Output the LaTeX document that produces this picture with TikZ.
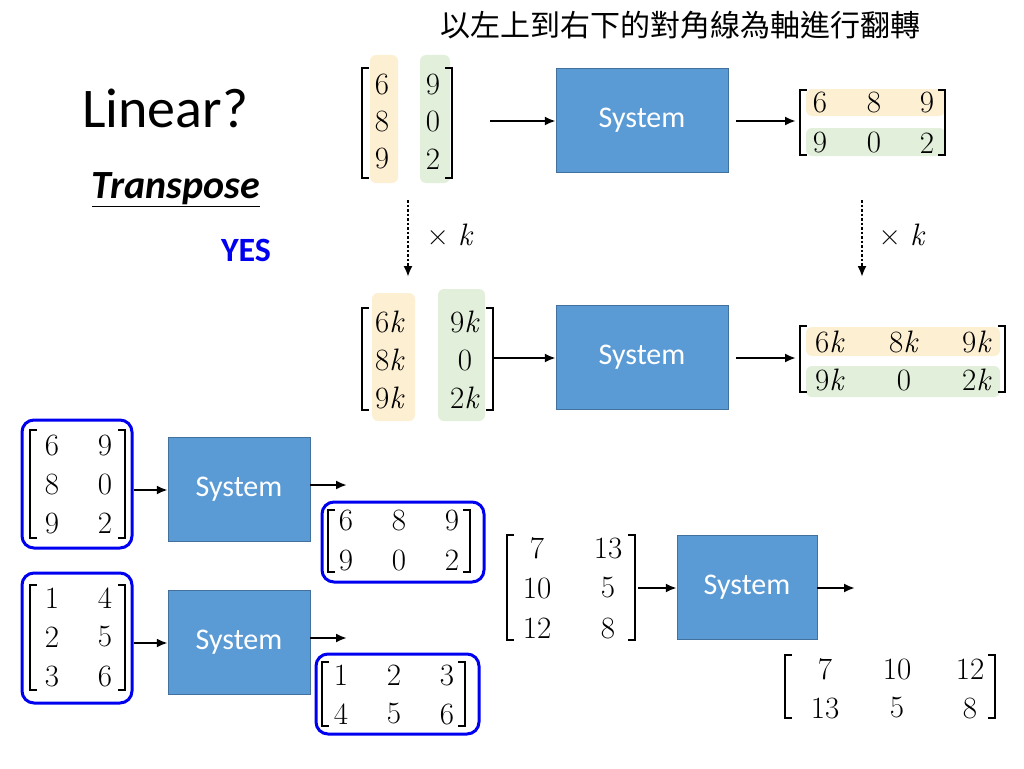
\documentclass[tikz,border=0pt]{standalone}
\usepackage{fontspec}
\newfontfamily\sysfont{Carlito}
\newfontfamily\cjkfont{Noto Sans CJK TC}
\usetikzlibrary{positioning,arrows.meta}
\definecolor{boxblue}{HTML}{5B9BD5}
\definecolor{boxedge}{HTML}{41719C}
\definecolor{hlyel}{HTML}{FDEFD2}
\definecolor{hlgrn}{HTML}{E2EFDA}
\definecolor{ringblue}{HTML}{0000F0}
\tikzset{
  sys/.style={draw=boxedge, fill=boxblue, minimum width=#1, text=white, font=\sysfont\fontsize{30}{32}\selectfont},
  num/.style={font=\fontsize{31}{33}\selectfont, inner sep=0pt},
  arr/.style={-{Latex[length=11pt,width=9pt]}, line width=2.5pt},
  dots/.style={-{Latex[length=11pt,width=9pt]}, line width=2.5pt, dotted},
  ring/.style={draw=ringblue, line width=3pt, rounded corners=12pt},
  yel/.style={fill=hlyel, rounded corners=6pt},
  grn/.style={fill=hlgrn, rounded corners=6pt}
}
\newcommand{\kk}{\textit{k}}
% bracket pair: left x, right x, top y, bottom y
\newcommand{\brk}[4]{%
  \draw[line width=1.6pt] (#1+7,#3) -- (#1,#3) -- (#1,#4) -- (#1+7,#4);
  \draw[line width=1.6pt] (#2-7,#3) -- (#2,#3) -- (#2,#4) -- (#2-7,#4);}
\begin{document}
\begin{tikzpicture}[x=1pt,y=-1pt]
  \useasboundingbox (0,0) rectangle (1024,768);
  \node[font=\cjkfont\fontsize{30}{32}\selectfont] (title) at (680,25) {以左上到右下的對角線為軸進行翻轉};
  \node[font=\sysfont\fontsize{56}{58}\selectfont] (lin) at (165,108) {Linear?};
  \node[font=\sysfont\bfseries\itshape\fontsize{40}{42}\selectfont] (tr) at (176,190) {\underline{Transpose}};
  \node[font=\sysfont\bfseries\fontsize{34}{36}\selectfont, text=ringblue] (yes) at (246,250) {YES};

  % top row
  \fill[yel] (370,55) rectangle (398,183);
  \fill[grn] (420,55) rectangle (450,183);
  \brk{362}{452}{68}{178}
  \foreach \v [count=\i] in {6,8,9} \node[num] (a\i) at (382,48+37*\i) {\v};
  \foreach \v [count=\i] in {9,0,2} \node[num] (b\i) at (433,48+37*\i) {\v};
  \coordinate (m1) at (490,121);
  \node[sys=172pt, minimum height=104pt] (s1) at (642,120) {System};
  \draw[arr] (m1) -- (s1.west |- m1);
  \coordinate (o1) at (796,121);
  \draw[arr] (s1.east |- o1) ++(8,0) -- (o1);
  \fill[yel] (806,89) rectangle (945,116);
  \fill[grn] (806,128) rectangle (945,156);
  \brk{800}{945}{90}{155}
  \foreach \v/\x in {6/820,8/874,9/927} \node[num] at (\x,103) {\v};
  \foreach \v/\x in {9/820,0/874,2/927} \node[num] at (\x,143) {\v};

  % times k
  \coordinate (d1) at (408,200); \coordinate (d2) at (408,277);
  \draw[dots] (d1) -- (d2);
  \node[num] (k1) at (450,235) {× \kk};
  \coordinate (d3) at (862,200); \coordinate (d4) at (862,277);
  \draw[dots] (d3) -- (d4);
  \node[num] (k2) at (902,235) {× \kk};

  % second row
  \fill[yel] (372,293) rectangle (415,421);
  \fill[grn] (438,289) rectangle (485,421);
  \brk{362}{493}{308}{410}
  \foreach \v [count=\i] in {6\kk,8\kk,9\kk} \node[num] at (390,284+38*\i) {\v};
  \foreach \v [count=\i] in {9\kk,0,2\kk} \node[num] at (465,284+38*\i) {\v};
  \coordinate (m2) at (493,358);
  \node[sys=172pt, minimum height=104pt] (s2) at (642,357) {System};
  \draw[arr] (m2) -- (s2.west |- m2);
  \coordinate (o2) at (796,358);
  \draw[arr] (s2.east |- o2) ++(8,0) -- (o2);
  \fill[yel] (806,327) rectangle (1000,356);
  \fill[grn] (806,366) rectangle (1000,397);
  \brk{800}{1005}{326}{392}
  \foreach \v/\x in {6\kk/830,8\kk/904,9\kk/977} \node[num] at (\x,342) {\v};
  \foreach \v/\x in {9\kk/830,0/904,2\kk/977} \node[num] at (\x,380) {\v};

  % bottom left 1
  \draw[ring] (22,420) rectangle (132,548);
  \brk{30}{125}{430}{538}
  \foreach \v [count=\i] in {6,8,9} \node[num] at (52,406+39*\i) {\v};
  \foreach \v [count=\i] in {9,0,2} \node[num] at (105,406+39*\i) {\v};
  \coordinate (m3) at (134,490);
  \node[sys=142pt, minimum height=104pt] (s3) at (239,489) {System};
  \draw[arr] (m3) -- (s3.west |- m3);
  \coordinate (o3) at (347,485);
  \draw[arr] (s3.east |- o3) -- (o3);
  \draw[ring] (322,502) rectangle (484,582);
  \brk{328}{470}{510}{572}
  \foreach \v/\x in {6/346,8/399,9/452} \node[num] at (\x,520) {\v};
  \foreach \v/\x in {9/346,0/399,2/452} \node[num] at (\x,560) {\v};

  % bottom left 2
  \draw[ring] (22,573) rectangle (132,703);
  \brk{30}{125}{585}{690}
  \foreach \v [count=\i] in {1,2,3} \node[num] at (52,559+39*\i) {\v};
  \foreach \v [count=\i] in {4,5,6} \node[num] at (105,559+39*\i) {\v};
  \coordinate (m4) at (134,643);
  \node[sys=142pt, minimum height=104pt] (s4) at (239,642) {System};
  \draw[arr] (m4) -- (s4.west |- m4);
  \coordinate (o4) at (347,638);
  \draw[arr] (s4.east |- o4) -- (o4);
  \draw[ring] (316,654) rectangle (479,734);
  \brk{322}{465}{662}{726}
  \foreach \v/\x in {1/341,2/394,3/447} \node[num] at (\x,675) {\v};
  \foreach \v/\x in {4/341,5/394,6/447} \node[num] at (\x,714) {\v};

  % bottom right
  \brk{507}{635}{535}{640}
  \foreach \v [count=\i] in {7,10,12} \node[num] at (537,508+40*\i) {\v};
  \foreach \v [count=\i] in {13,5,8} \node[num] at (608,508+40*\i) {\v};
  \coordinate (m5) at (638,588);
  \node[sys=140pt, minimum height=104pt] (s5) at (747,587) {System};
  \draw[arr] (m5) -- (s5.west |- m5);
  \coordinate (o5) at (855,588);
  \draw[arr] (s5.east |- o5) -- (o5);
  \brk{785}{995}{655}{718}
  \foreach \v/\x in {7/825,10/897,12/970} \node[num] at (\x,669) {\v};
  \foreach \v/\x in {13/825,5/897,8/970} \node[num] at (\x,708) {\v};
\end{tikzpicture}
\end{document}
